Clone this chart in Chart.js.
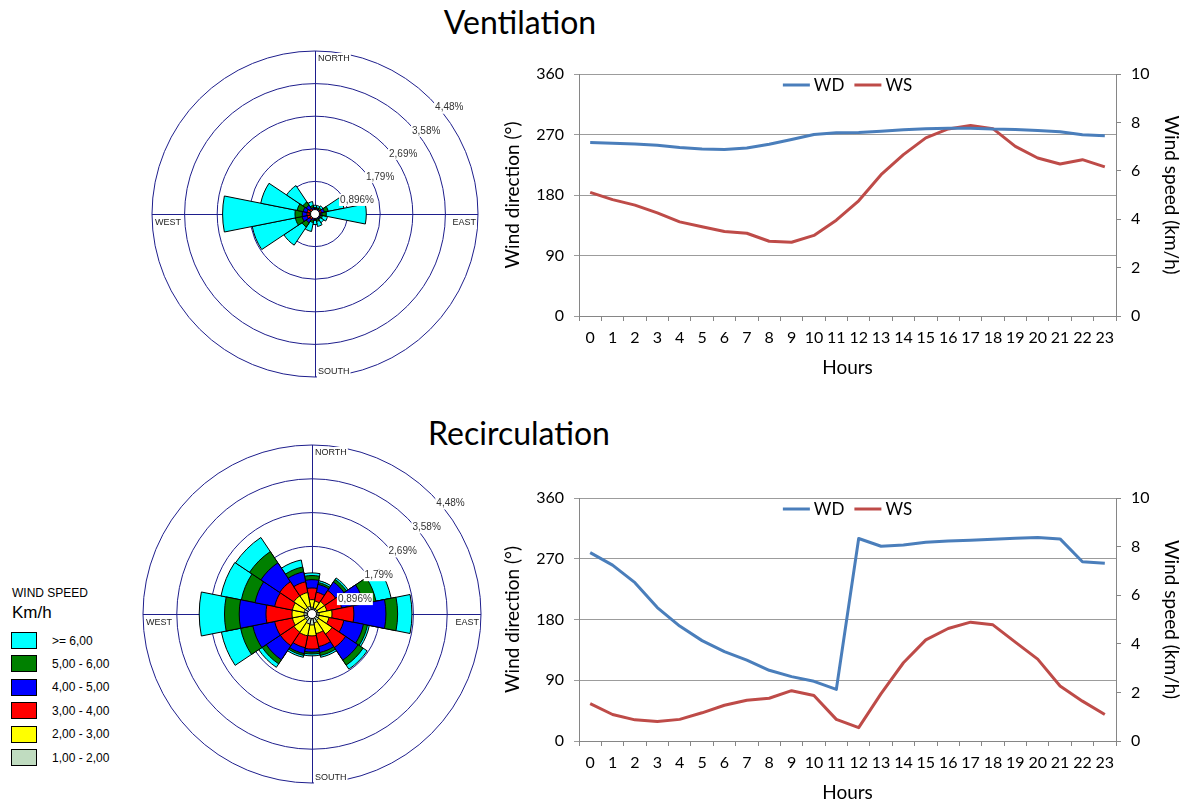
<!DOCTYPE html>
<html>
<head>
<meta charset="utf-8">
<script src="https://cdn.jsdelivr.net/npm/chart.js@4.4.1/dist/chart.umd.min.js"></script>
<style>
  html, body { margin:0; padding:0; background:#fff; }
  #wrap { position:relative; width:1187px; height:801px; overflow:hidden; background:#fff; }
  canvas { position:absolute; }
  .title { position:absolute; width:400px; text-align:center; font-family:Lato, sans-serif; font-size:32px; line-height:40px; color:#000; }
  #speedLegend { position:absolute; left:0; top:0; font-family:"Liberation Sans", Arial, sans-serif; color:#000; }
  .lgHead { position:absolute; left:12px; white-space:nowrap; }
  .lgBox { position:absolute; left:11px; width:24px; height:15px; border:1px solid #000; }
  .lgTxt { position:absolute; left:52px; font-size:12px; line-height:14px; white-space:nowrap; }
</style>
</head>
<body>
<div id="wrap">
  <div class="title" style="left:320px; top:2px;">Ventilation</div>
  <div class="title" style="left:319px; top:413px;">Recirculation</div>
  <canvas id="roseV" width="344" height="344" style="left:143px; top:42px;"></canvas>
  <canvas id="roseR" width="352" height="352" style="left:136px; top:438px;"></canvas>
  <canvas id="lineV" width="692" height="322" style="left:495px; top:60px;"></canvas>
  <canvas id="lineR" width="692" height="323" style="left:495px; top:484px;"></canvas>
  <div id="speedLegend"></div>
</div>
<script>
// ---------- data ----------
const directions = ['N','NNE','NE','ENE','E','ESE','SE','SSE','S','SSW','SW','WSW','W','WNW','NW','NNW'];
const speedClasses = ['1,00 - 2,00','2,00 - 3,00','3,00 - 4,00','4,00 - 5,00','5,00 - 6,00','>= 6,00'];
const speedColors = ['#c0dcc0','#ffff00','#ff0000','#0000ff','#008000','#00ffff'];
const roseTicks = [0.896, 1.792, 2.688, 3.584, 4.48];
const roseTickLabels = ['0,896%','1,79%','2,69%','3,58%','4,48%'];
const compassLabels = ['NORTH','EAST','SOUTH','WEST'];

// Ventilation wind rose (% per speed class, N..NNW)
const vent1_2 = [0.06,0.06,0.06,0.06,0.06,0.06,0.06,0.06,0.06,0.06,0.06,0.08,0.08,0.08,0.06,0.06];
const vent2_3 = [0.03,0.03,0.03,0.06,0.06,0.03,0.03,0.03,0.03,0.03,0.06,0.06,0.06,0.06,0.06,0.03];
const vent3_4 = [0.03,0.03,0.03,0.06,0.03,0.03,0.03,0.03,0.03,0.03,0.06,0.08,0.08,0.08,0.06,0.03];
const vent4_5 = [0.03,0.03,0.03,0.08,0.04,0.03,0.03,0.03,0.03,0.06,0.11,0.14,0.13,0.11,0.11,0.06];
const vent5_6 = [0.03,0.03,0.06,0.11,0.12,0.06,0.03,0.06,0.03,0.06,0.14,0.19,0.20,0.17,0.11,0.06];
const vent6   = [0.06,0.06,0.06,0.44,1.10,0.14,0.11,0.14,0.11,0.25,0.60,1.21,1.99,1.02,0.54,0.11];

// Recirculation wind rose
const rec1_2 = [0.18,0.16,0.16,0.16,0.19,0.19,0.21,0.24,0.29,0.27,0.21,0.21,0.21,0.21,0.21,0.21];
const rec2_3 = [0.20,0.19,0.24,0.24,0.34,0.27,0.43,0.29,0.29,0.32,0.37,0.32,0.32,0.32,0.37,0.37];
const rec3_4 = [0.31,0.24,0.35,0.40,0.58,0.40,0.43,0.35,0.35,0.32,0.43,0.48,0.69,0.48,0.45,0.29];
const rec4_5 = [0.22,0.21,0.27,0.59,0.85,0.53,0.40,0.16,0.08,0.16,0.45,0.59,0.71,0.53,0.60,0.27];
const rec5_6 = [0.11,0.05,0.08,0.34,0.31,0.11,0.16,0.08,0.05,0.05,0.13,0.33,0.39,0.37,0.36,0.13];
const rec6   = [0.07,0.05,0.05,0.41,0.38,0.05,0.13,0.05,0.05,0.05,0.11,0.52,0.67,0.55,0.45,0.19];

// Hourly lines
const hours = ['0','1','2','3','4','5','6','7','8','9','10','11','12','13','14','15','16','17','18','19','20','21','22','23'];
const ventWD = [258,257,256,254,250.6,248.6,247.6,250,255.6,262.5,270,272.5,273,275,277,278.5,279.4,279.4,278,277.5,276,274,269.5,268];
const ventWS = [5.11,4.81,4.58,4.26,3.89,3.69,3.49,3.42,3.09,3.05,3.33,3.96,4.76,5.84,6.67,7.36,7.73,7.87,7.74,7.01,6.53,6.28,6.46,6.16];
const recWD = [279,260.5,234.6,197.6,170.2,148.7,132.3,119.8,104.8,95.4,88.4,76.4,300,288.5,290.5,294.5,296.4,297.4,299,300.4,301.4,299.4,265.5,263.5];
const recWS = [1.54,1.09,0.87,0.80,0.89,1.16,1.47,1.68,1.76,2.07,1.87,0.89,0.55,1.95,3.22,4.16,4.63,4.89,4.78,4.07,3.37,2.26,1.64,1.09];
const wdTicks = [0, 90, 180, 270, 360];
const wsTicks = [0, 2, 4, 6, 8, 10];

// ---------- styles ----------
const NAVY = '#1e1e8c';
const WD_COLOR = '#4a7ebb';
const WS_COLOR = '#be4b48';
const AXIS_GREY = '#868686';
const GRID_GREY = '#9c9c9c';

// ---------- wind roses ----------
function cumulative(classes) {
  const out = [];
  let run = new Array(directions.length).fill(0);
  classes.forEach(c => { run = run.map((v, i) => v + c[i]); out.push(run.slice()); });
  return out;
}

function labelWithBg(ctx, text, x, y, align, color) {
  const w = ctx.measureText(text).width;
  const left = align === 'left' ? x : (align === 'right' ? x - w : x - w / 2);
  ctx.fillStyle = '#fff';
  ctx.fillRect(left - 1, y - 6, w + 2, 12);
  ctx.fillStyle = color;
  ctx.textAlign = 'left';
  ctx.textBaseline = 'middle';
  ctx.fillText(text, left, y);
}

const rosePlugin = {
  id: 'roseDecor',
  beforeDatasetsDraw(chart) {
    const s = chart.scales.r, ctx = chart.ctx;
    const cx = s.xCenter, cy = s.yCenter, R = s.drawingArea;
    ctx.save();
    ctx.strokeStyle = NAVY;
    ctx.lineWidth = 1;
    ctx.beginPath();
    ctx.moveTo(cx + 0.5, cy - R); ctx.lineTo(cx + 0.5, cy + R);
    ctx.moveTo(cx - R, cy + 0.5); ctx.lineTo(cx + R, cy + 0.5);
    ctx.stroke();
    ctx.restore();
  },
  afterDatasetsDraw(chart) {
    const s = chart.scales.r, ctx = chart.ctx;
    const cx = s.xCenter, cy = s.yCenter, R = s.drawingArea;
    ctx.save();
    // calm circle
    ctx.beginPath();
    ctx.arc(cx, cy, 4.5, 0, Math.PI * 2);
    ctx.fillStyle = '#fff'; ctx.fill();
    ctx.strokeStyle = '#000'; ctx.lineWidth = 1; ctx.stroke();
    // ring labels
    ctx.font = '10px "Liberation Sans", Arial, sans-serif';
    roseTicks.forEach((v, i) => {
      const d = s.getDistanceFromCenterForValue(v);
      const x = cx + d * Math.SQRT1_2 + 19;
      const y = cy - d * Math.SQRT1_2 + 9;
      labelWithBg(ctx, roseTickLabels[i], x, y, 'center', '#333');
    });
    // compass labels
    ctx.font = '9px "Liberation Sans", Arial, sans-serif';
    labelWithBg(ctx, compassLabels[0], cx + 3, cy - R + 8, 'left', '#222');
    labelWithBg(ctx, compassLabels[1], cx + R - 2, cy + 9, 'right', '#222');
    labelWithBg(ctx, compassLabels[2], cx + 3, cy + R - 5, 'left', '#222');
    labelWithBg(ctx, compassLabels[3], cx - R + 3, cy + 9, 'left', '#222');
    ctx.restore();
  }
};

function makeRose(id, classes, pad) {
  const cum = cumulative(classes);
  new Chart(document.getElementById(id), {
    type: 'polarArea',
    data: {
      labels: directions,
      datasets: cum.map((d, k) => ({
        label: speedClasses[k], data: d,
        backgroundColor: speedColors[k], borderColor: '#000', borderWidth: 1
      }))
    },
    options: {
      responsive: false, animation: false,
      layout: { padding: pad },
      plugins: { legend: { display: false }, tooltip: { enabled: false } },
      scales: {
        r: {
          min: 0, max: roseTicks[roseTicks.length - 1], startAngle: -11.25,
          ticks: { display: false, stepSize: roseTicks[0] },
          grid: { color: NAVY, lineWidth: 1, circular: true },
          angleLines: { display: false },
          pointLabels: { display: false }
        }
      }
    },
    plugins: [rosePlugin]
  });
}

makeRose('roseV', [vent1_2, vent2_3, vent3_4, vent4_5, vent5_6, vent6], 9);
makeRose('roseR', [rec1_2, rec2_3, rec3_4, rec4_5, rec5_6, rec6], 7);

// ---------- speed legend (HTML) ----------
(function () {
  const L = document.getElementById('speedLegend');
  let html = '<div class="lgHead" style="top:586px;font-family:\'Liberation Sans Narrow\',\'Liberation Sans\',sans-serif;font-size:12px;line-height:14px;">WIND SPEED</div>';
  html += '<div class="lgHead" style="top:603px;font-size:17px;line-height:20px;">Km/h</div>';
  for (let k = speedClasses.length - 1, j = 0; k >= 0; k--, j++) {
    const top = 632 + j * 23.4;
    html += '<div class="lgBox" style="top:' + top + 'px;background:' + speedColors[k] + ';"></div>';
    html += '<div class="lgTxt" style="top:' + (top + 1.5) + 'px;">' + speedClasses[k] + '</div>';
  }
  L.innerHTML = html;
})();

// ---------- line charts ----------
const lineLegend = {
  id: 'lineLegend',
  afterDraw(chart) {
    const ctx = chart.ctx, a = chart.chartArea;
    ctx.save();
    ctx.font = '17px Lato, sans-serif';
    const items = chart.data.datasets.map(d => ({ text: d.label, color: d.borderColor, w: ctx.measureText(d.label).width }));
    const lineW = 27, gap = 4, itemGap = 10;
    const total = items.reduce((s, it) => s + lineW + gap + it.w, 0) + itemGap * (items.length - 1);
    let x = (a.left + a.right) / 2 - total / 2;
    const y = a.top + 11;
    items.forEach(it => {
      ctx.strokeStyle = it.color; ctx.lineWidth = 3;
      ctx.beginPath(); ctx.moveTo(x, y); ctx.lineTo(x + lineW, y); ctx.stroke();
      x += lineW + gap;
      ctx.fillStyle = '#000'; ctx.textAlign = 'left'; ctx.textBaseline = 'middle';
      ctx.fillText(it.text, x, y + 1);
      x += it.w + itemGap;
    });
    ctx.restore();
  }
};

const tickFont = { family: 'Lato, sans-serif', size: 16 };
const titleFont = { family: 'Lato, sans-serif', size: 19 };

function fitV(width) {
  return s => { s.width = width; s.paddingTop = 0; s.paddingBottom = 0; };
}

function makeLine(id, wd, ws) {
  new Chart(document.getElementById(id), {
    type: 'line',
    data: {
      labels: hours,
      datasets: [
        { label: 'WD', data: wd, borderColor: WD_COLOR, backgroundColor: WD_COLOR, borderWidth: 3, pointRadius: 0, yAxisID: 'y', tension: 0, borderJoinStyle: 'round' },
        { label: 'WS', data: ws, borderColor: WS_COLOR, backgroundColor: WS_COLOR, borderWidth: 3, pointRadius: 0, yAxisID: 'y1', tension: 0, borderJoinStyle: 'round' }
      ]
    },
    options: {
      responsive: false, animation: false,
      layout: { padding: { top: 14, left: 0, right: 0, bottom: 0 } },
      plugins: { legend: { display: false }, tooltip: { enabled: false } },
      scales: {
        x: {
          offset: true,
          grid: { offset: true, drawOnChartArea: false, tickLength: 5, color: AXIS_GREY },
          border: { color: AXIS_GREY },
          ticks: { font: tickFont, color: '#000', padding: 7, maxRotation: 0, autoSkip: false },
          title: { display: true, text: 'Hours', font: titleFont, color: '#000', padding: { top: 3, bottom: 3 } },
          afterFit: s => { s.height = 66; s.paddingLeft = 0; s.paddingRight = 0; }
        },
        y: {
          position: 'left', min: wdTicks[0], max: wdTicks[wdTicks.length - 1],
          afterBuildTicks: s => { s.ticks = wdTicks.map(v => ({ value: v })); },
          grid: { color: GRID_GREY, tickLength: 5 },
          border: { color: AXIS_GREY },
          ticks: { font: tickFont, color: '#000', padding: 10 },
          title: { display: true, text: 'Wind direction (°)', font: titleFont, color: '#000', padding: { top: 6, bottom: 0 } },
          afterFit: fitV(84)
        },
        y1: {
          position: 'right', min: wsTicks[0], max: wsTicks[wsTicks.length - 1],
          afterBuildTicks: s => { s.ticks = wsTicks.map(v => ({ value: v })); },
          grid: { drawOnChartArea: false, tickLength: 5, color: AXIS_GREY },
          border: { color: AXIS_GREY },
          ticks: { font: tickFont, color: '#000', padding: 10 },
          title: { display: true, text: 'Wind speed (km/h)', font: titleFont, color: '#000', padding: { top: 4, bottom: 0 } },
          afterFit: fitV(71)
        }
      }
    },
    plugins: [lineLegend]
  });
}

makeLine('lineV', ventWD, ventWS);
makeLine('lineR', recWD, recWS);
</script>
</body>
</html>
